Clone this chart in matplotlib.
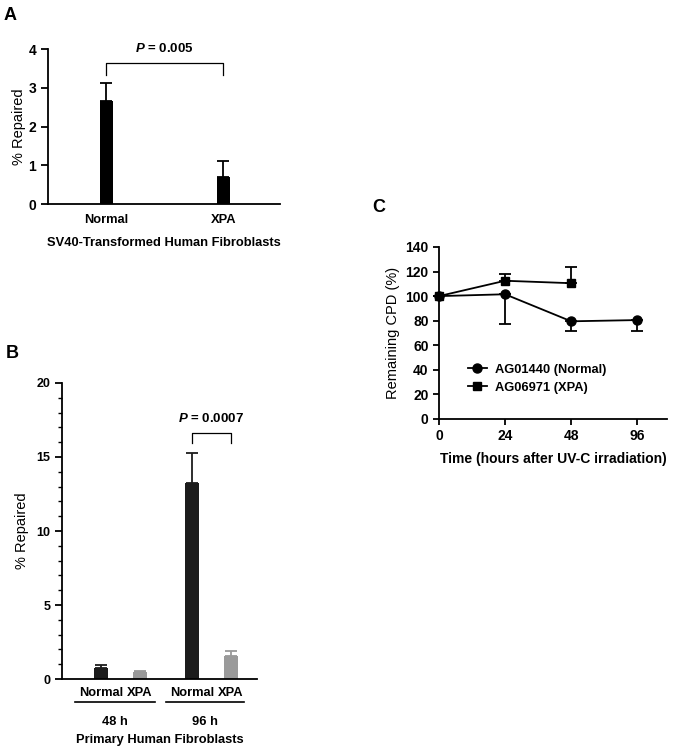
import numpy as np
import matplotlib
matplotlib.use('Agg')
import matplotlib.pyplot as plt
import matplotlib.transforms as mtransforms
from matplotlib.lines import Line2D

plt.rcParams['font.family'] = ['Liberation Sans', 'DejaVu Sans']
plt.rcParams['mathtext.fontset'] = 'custom'
plt.rcParams['mathtext.it'] = 'Liberation Sans:italic:bold'
plt.rcParams['mathtext.rm'] = 'Liberation Sans:bold'
plt.rcParams['axes.linewidth'] = 1.3

# panel A: SV40-transformed fibroblasts
a_labels = ['Normal', 'XPA']
a_vals = [2.65, 0.70]
a_err = [0.47, 0.40]

# panel B: primary fibroblasts
b_labels = ['Normal', 'XPA', 'Normal', 'XPA']
b_groups = ['48 h', '96 h']
b_vals = [0.75, 0.45, 13.25, 1.55]
b_err = [0.20, 0.10, 2.05, 0.35]
b_colors = ['#1c1c1c', '#9a9a9a', '#1c1c1c', '#9a9a9a']

# panel C: remaining CPD
c_time = ['0', '24', '48', '96']
c_normal = [100, 101.5, 79.5, 80.5]
c_normal_err = [0, 24.5, 7.5, 8.5]
c_xpa = [100, 112.5, 110.5]
c_xpa_err = [0, 5.5, 13.5]
c_names = ['AG01440 (Normal)', 'AG06971 (XPA)']

fig = plt.figure(figsize=(6.73, 7.47), dpi=100)

# ---------- A ----------
axA = fig.add_axes([0.0713, 0.7269, 0.345, 0.2075])
xa = np.arange(len(a_vals))
axA.bar(xa, a_vals, width=0.11, color='black')
axA.errorbar(xa, a_vals, yerr=[np.zeros(2), a_err], fmt='none', ecolor='black',
             elinewidth=1.3, capsize=4, capthick=1.3)
axA.set_xlim(-0.496, 1.487)
axA.set_ylim(0, 4)
axA.set_yticks([0, 1, 2, 3, 4])
axA.set_xticks(xa)
axA.set_xticklabels(a_labels, fontweight='bold', fontsize=9.3)
axA.tick_params(axis='x', length=0, pad=7)
axA.tick_params(axis='y', length=5, width=1.3, labelsize=10)
for t in axA.get_yticklabels():
    t.set_fontweight('bold')
axA.spines['top'].set_visible(False)
axA.spines['right'].set_visible(False)
axA.set_ylabel('% Repaired', fontsize=10.5, labelpad=2)
axA.set_xlabel('SV40-Transformed Human Fibroblasts', fontsize=9.3, fontweight='bold', labelpad=8)
axA.plot([0, 0, 1, 1], [3.33, 3.64, 3.64, 3.33], color='black', lw=0.9, clip_on=False)
axA.text(0.5, 4.02, r'$P$ = 0.005', ha='center', va='center', fontsize=9.5, fontweight='bold')

# ---------- B ----------
axB = fig.add_axes([0.0921, 0.091, 0.2897, 0.3963])
xb = np.array([0, 1, 2.33, 3.33])
axB.bar(xb, b_vals, width=0.36, color=b_colors)
for i in range(len(xb)):
    axB.errorbar(xb[i], b_vals[i], yerr=[[0], [b_err[i]]], fmt='none', ecolor=b_colors[i],
                 elinewidth=1.3, capsize=4, capthick=1.3)
axB.set_xlim(-1.0, 4.0)
axB.set_ylim(0, 20)
axB.set_yticks([0, 5, 10, 15, 20])
axB.set_yticks(np.arange(0, 21, 1), minor=True)
axB.set_xticks(xb)
axB.set_xticklabels(b_labels, fontweight='bold', fontsize=9.3)
axB.tick_params(axis='x', length=0, pad=6)
axB.tick_params(axis='y', which='major', length=5, width=1.3, labelsize=9)
axB.tick_params(axis='y', which='minor', length=3, width=1.0)
for t in axB.get_yticklabels():
    t.set_fontweight('bold')
axB.spines['top'].set_visible(False)
axB.spines['right'].set_visible(False)
axB.set_ylabel('% Repaired', fontsize=10.5, labelpad=5)
axB.plot([2.33, 2.33, 3.33, 3.33], [15.95, 16.6, 16.6, 15.95], color='black', lw=0.9)
axB.text(2.83, 17.6, r'$P$ = 0.0007', ha='center', va='center', fontsize=9.5, fontweight='bold')
trB = mtransforms.blended_transform_factory(axB.transData, axB.transAxes)
group_spans = [(-0.67, 1.38), (1.67, 3.67)]
for (g0, g1), g in zip(group_spans, b_groups):
    axB.plot([g0, g1], [-0.078, -0.078], color='black', lw=1.2, transform=trB, clip_on=False)
    axB.text((g0 + g1) / 2, -0.145, g, transform=trB, ha='center', va='center',
             fontsize=9.3, fontweight='bold')
axB.text(1.5, -0.205, 'Primary Human Fibroblasts', transform=trB, ha='center', va='center',
         fontsize=9.3, fontweight='bold')

# ---------- C ----------
axC = fig.add_axes([0.6523, 0.4391, 0.3388, 0.2303])
xc = np.arange(len(c_time))
axC.errorbar(xc, c_normal, yerr=[c_normal_err, np.zeros(len(c_normal))], color='black',
             marker='o', markersize=6.5, lw=1.3, elinewidth=1.3, capsize=4, capthick=1.3,
             clip_on=False)
axC.errorbar(xc[:len(c_xpa)], c_xpa, yerr=[np.zeros(len(c_xpa)), c_xpa_err], color='black',
             marker='s', markersize=6, lw=1.3, elinewidth=1.3, capsize=4, capthick=1.3,
             clip_on=False)
axC.set_xlim(0, 3.45)
axC.set_ylim(0, 140)
axC.set_yticks(np.arange(0, 141, 20))
axC.set_xticks(xc)
axC.set_xticklabels(c_time)
axC.tick_params(axis='both', length=4, width=1.3, labelsize=10)
for t in axC.get_xticklabels() + axC.get_yticklabels():
    t.set_fontweight('bold')
axC.spines['top'].set_visible(False)
axC.spines['right'].set_visible(False)
axC.set_ylabel('Remaining CPD (%)', fontsize=10.5, labelpad=4)
axC.set_xlabel('Time (hours after UV-C irradiation)', fontsize=10, fontweight='bold', labelpad=6)
handles = [Line2D([], [], color='black', marker='o', markersize=6.5, lw=1.3),
           Line2D([], [], color='black', marker='s', markersize=6, lw=1.3)]
axC.legend(handles, c_names, loc='center left', bbox_to_anchor=(0.075, 0.235), frameon=False,
           handlelength=1.5, handletextpad=0.6, labelspacing=0.45,
           prop={'weight': 'bold', 'size': 9.3})

# panel letters
fig.text(4 / 673, 1 - 15 / 747, 'A', fontsize=13, fontweight='bold', va='center')
fig.text(6 / 673, 1 - 354 / 747, 'B', fontsize=13, fontweight='bold', va='center')
fig.text(372 / 673, 1 - 207 / 747, 'C', fontsize=13, fontweight='bold', va='center')

fig.savefig('out.png', dpi=100)
